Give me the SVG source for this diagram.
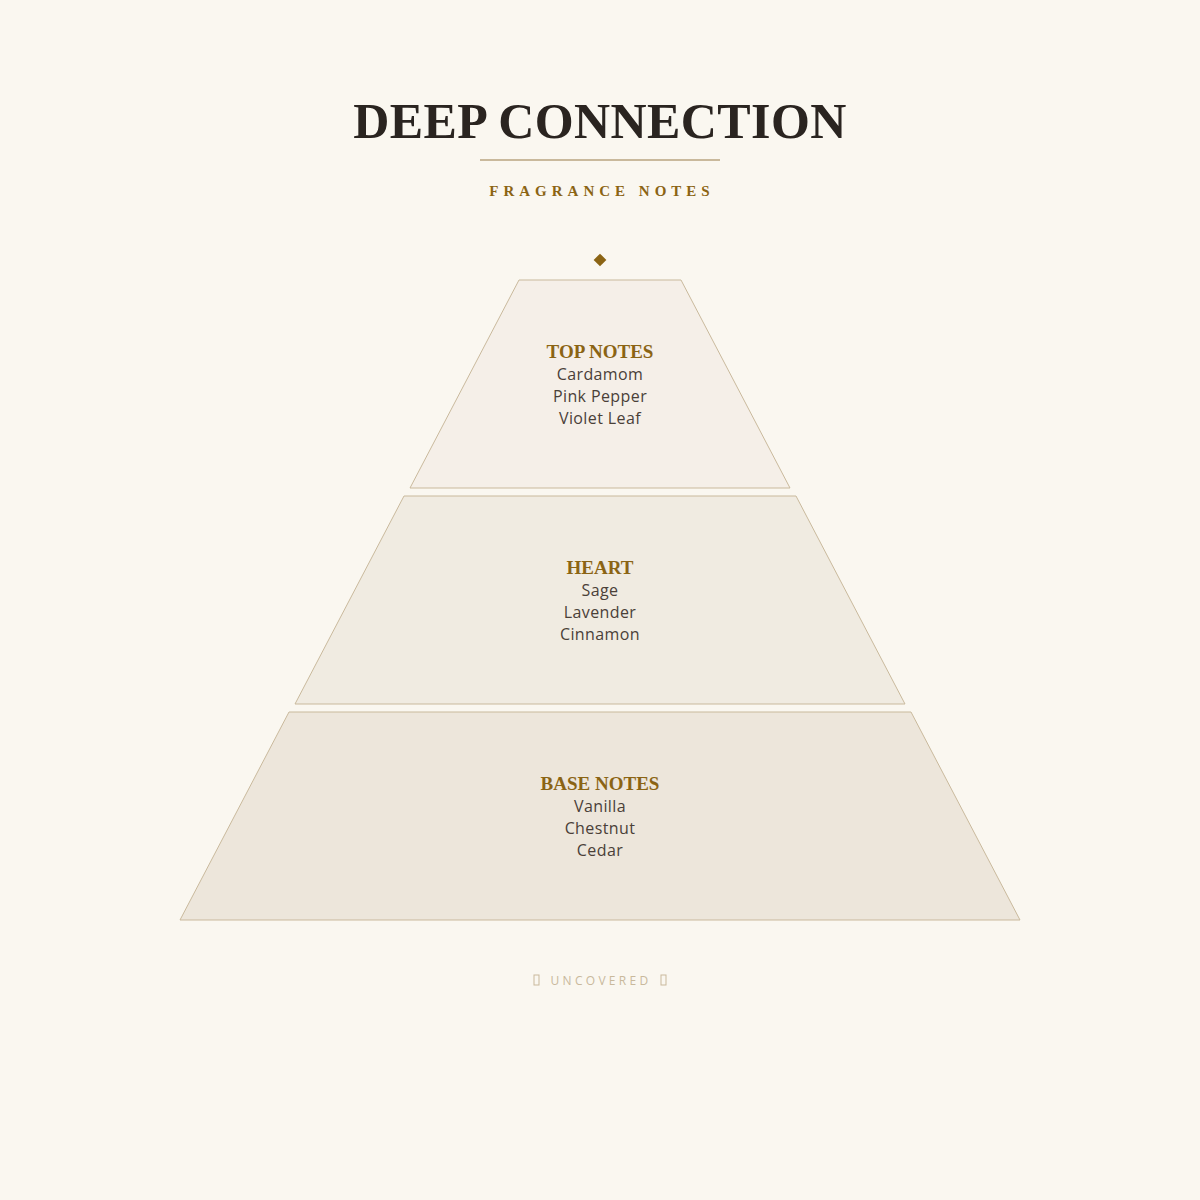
<svg xmlns="http://www.w3.org/2000/svg" width="1200" height="1200" viewBox="0 0 1200 1200">
<style>
.tier{stroke:#c9b99c;stroke-width:1}
.h{font-family:"Liberation Serif",serif;font-weight:bold;font-size:19px;fill:#8b6414;text-anchor:middle}
.n{font-family:"Open Sans","Liberation Sans",sans-serif;font-size:16px;letter-spacing:0.4px;fill:#4a4038;text-anchor:middle}
</style>
<rect width="1200" height="1200" fill="#faf7f0"/>
<g id="title">
<text x="600" y="138" text-anchor="middle" font-family="Liberation Serif,serif" font-weight="bold" font-size="50" letter-spacing="0.4" fill="#2a2420">DEEP CONNECTION</text>
<line x1="480" y1="160" x2="720" y2="160" stroke="#c9b99c" stroke-width="2"/>
<text x="602" y="196" text-anchor="middle" font-family="Liberation Serif,serif" font-weight="bold" font-size="15" letter-spacing="5" fill="#8b6414">FRAGRANCE NOTES</text>
<rect x="595.5" y="255.5" width="9" height="9" fill="#8b6414" transform="rotate(45 600 260)"/>
</g>
<g id="top">
<polygon class="tier" points="519,280 681,280 790,488 410,488" fill="#f5efe8"/>
<text class="h" x="600" y="358">TOP NOTES</text>
<text class="n" x="600" y="380">Cardamom</text>
<text class="n" x="600" y="402">Pink Pepper</text>
<text class="n" x="600" y="424">Violet Leaf</text>
</g>
<g id="heart">
<polygon class="tier" points="404,496 796,496 905,704 295,704" fill="#f0ebe1"/>
<text class="h" x="600" y="574">HEART</text>
<text class="n" x="600" y="596">Sage</text>
<text class="n" x="600" y="618">Lavender</text>
<text class="n" x="600" y="640">Cinnamon</text>
</g>
<g id="base">
<polygon class="tier" points="289,712 911,712 1020,920 180,920" fill="#ede6db"/>
<text class="h" x="600" y="790">BASE NOTES</text>
<text class="n" x="600" y="812">Vanilla</text>
<text class="n" x="600" y="834">Chestnut</text>
<text class="n" x="600" y="856">Cedar</text>
</g>
<g id="connectors"></g>
<g id="footer">
<text x="601" y="985" text-anchor="middle" font-family="Open Sans,Liberation Sans,sans-serif" font-size="12" letter-spacing="3.3" fill="#c9b99c">UNCOVERED</text>
<rect x="534" y="975" width="5" height="10" fill="none" stroke="#c9b99c" stroke-width="1"/>
<rect x="661" y="975" width="5" height="10" fill="none" stroke="#c9b99c" stroke-width="1"/>
</g>
</svg>
